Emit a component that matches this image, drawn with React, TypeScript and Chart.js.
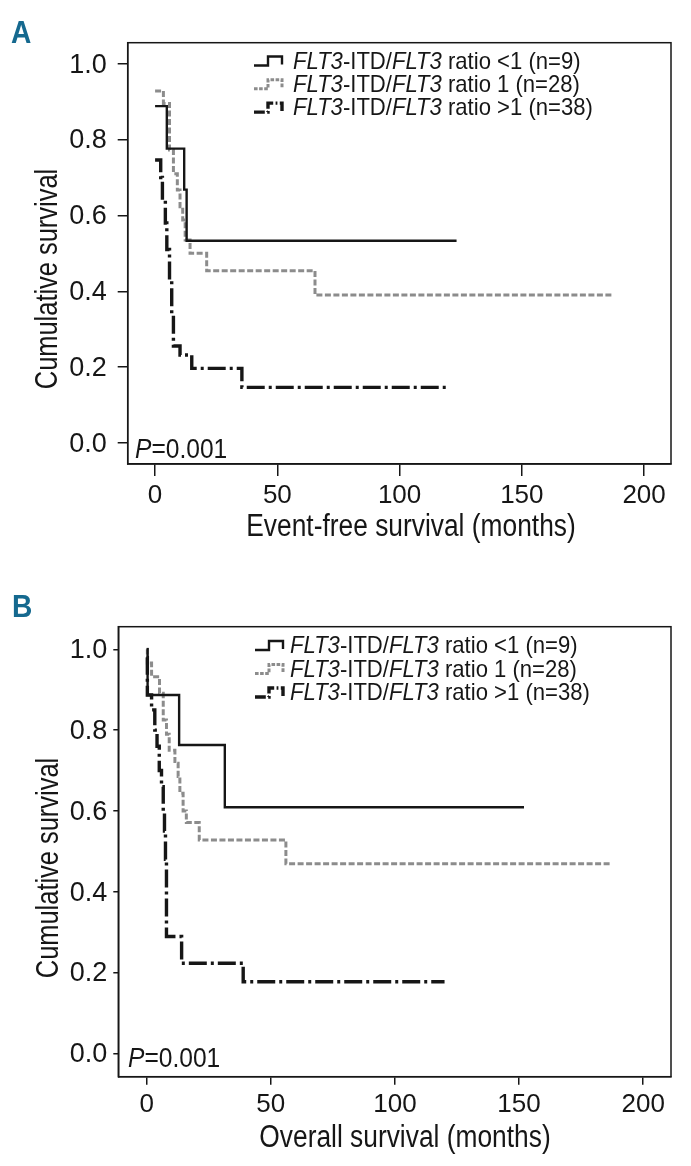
import React, { useEffect, useRef } from "react";
import { Chart, registerables } from "chart.js";

Chart.register(...registerables);

// ---------- data ----------
const xTickValues = [0, 50, 100, 150, 200];
const yTickValues = [0, 0.2, 0.4, 0.6, 0.8, 1.0];

const groupLabels = ["ratio <1 (n=9)", "ratio 1 (n=28)", "ratio >1 (n=38)"];

// Panel A: event-free survival (time in months, cumulative survival)
const efsLt1Time = [0, 4.8, 11.9, 12.9, 123.3];
const efsLt1Surv = [0.888, 0.776, 0.668, 0.533, 0.533];

const efsEq1Time = [0, 3.4, 5.9, 7.5, 9.1, 10.2, 11.3, 12.3, 14.3, 21.1, 65.4, 186.7];
const efsEq1Surv = [0.928, 0.895, 0.772, 0.71, 0.667, 0.623, 0.588, 0.535, 0.5, 0.454, 0.39, 0.39];

const efsGt1Time = [0, 2.3, 3.0, 4.2, 4.8, 5.9, 6.8, 7.5, 10.2, 15.0, 35.5, 119.2];
const efsGt1Surv = [0.746, 0.7, 0.64, 0.58, 0.51, 0.43, 0.34, 0.256, 0.232, 0.197, 0.147, 0.147];

// Panel B: overall survival
const osLt1Time = [0, 0.4, 13.1, 31.5, 152];
const osLt1Surv = [1.0, 0.887, 0.763, 0.609, 0.609];

const osEq1Time = [0, 0.3, 2.0, 5.2, 6.7, 8.0, 9.1, 11.4, 12.7, 13.4, 14.7, 16.0, 21.2, 56.1, 186.5];
const osEq1Surv = [1.0, 0.966, 0.932, 0.891, 0.825, 0.79, 0.75, 0.718, 0.685, 0.644, 0.6, 0.571, 0.528, 0.469, 0.469];

const osGt1Time = [0, 0.3, 2.0, 3.3, 4.2, 5.1, 6.0, 6.7, 7.2, 7.6, 8.0, 14.1, 38.9, 120];
const osGt1Surv = [0.98, 0.887, 0.85, 0.8, 0.76, 0.7, 0.66, 0.6, 0.55, 0.48, 0.289, 0.223, 0.177, 0.177];

const pValueText = "0.001";

// ---------- styles ----------
const FF = '"Liberation Sans", Arial, sans-serif';
const INK = "#161616";
const GRAY = "#8c8c8c";
const LABEL_BLUE = "#15698f";

const seriesStyles = [
  { color: INK, width: 2.4, dash: [] as number[] },
  { color: GRAY, width: 3, dash: [6, 2.5] },
  { color: INK, width: 3.4, dash: [18, 4, 3, 4] },
];

type Panel = {
  letter: string;
  xTitle: string;
  canvasH: number;
  area: { left: number; top: number; right: number; bottom: number };
  xMin: number; xMax: number; yMin: number; yMax: number;
  series: { t: number[]; s: number[] }[];
  xTick: { len: number; pad: number };
  yTick: { len: number; pad: number };
  letterPos: [number, number];
  legend: { symX: number; textX: number; y0: number; dy: number };
  pPos: [number, number];
  xTitlePos: [number, number];
  yTitlePos: [number, number];
};

const panels: Panel[] = [
  {
    letter: "A",
    xTitle: "Event-free survival (months)",
    canvasH: 560,
    area: { left: 127.7, top: 42.7, right: 671, bottom: 464 },
    xMin: -11.2, xMax: 211, yMin: -0.055, yMax: 1.055,
    series: [
      { t: efsLt1Time, s: efsLt1Surv },
      { t: efsEq1Time, s: efsEq1Surv },
      { t: efsGt1Time, s: efsGt1Surv },
    ],
    xTick: { len: 12, pad: 4 },
    yTick: { len: 10, pad: 11 },
    letterPos: [11, 43],
    legend: { symX: 254, textX: 293, y0: 61.5, dy: 23.3 },
    pPos: [135, 458],
    xTitlePos: [411, 536],
    yTitlePos: [57, 279],
  },
  {
    letter: "B",
    xTitle: "Overall survival (months)",
    canvasH: 606,
    area: { left: 118.3, top: 66.7, right: 671, bottom: 516.7 },
    xMin: -11.4, xMax: 211.2, yMin: -0.058, yMax: 1.056,
    series: [
      { t: osLt1Time, s: osLt1Surv },
      { t: osEq1Time, s: osEq1Surv },
      { t: osGt1Time, s: osGt1Surv },
    ],
    xTick: { len: 8, pad: 5 },
    yTick: { len: 5, pad: 6 },
    letterPos: [12, 57],
    legend: { symX: 255, textX: 290, y0: 86, dy: 23.5 },
    pPos: [128, 506.5],
    xTitlePos: [405, 586.5],
    yTitlePos: [58, 308],
  },
];

// draw horizontally condensed text; returns the drawn width
function narrowText(
  ctx: CanvasRenderingContext2D,
  txt: string,
  x: number,
  y: number,
  font: string,
  sx: number,
  align: CanvasTextAlign = "left"
) {
  ctx.save();
  ctx.font = font;
  ctx.textAlign = align;
  ctx.textBaseline = "alphabetic";
  ctx.translate(x, y);
  ctx.scale(sx, 1);
  ctx.fillText(txt, 0, 0);
  const w = ctx.measureText(txt).width * sx;
  ctx.restore();
  return w;
}

function drawLegendSymbol(ctx: CanvasRenderingContext2D, x: number, yc: number, st: typeof seriesStyles[0]) {
  ctx.save();
  ctx.strokeStyle = st.color;
  ctx.lineWidth = st.width;
  ctx.setLineDash(st.dash.length ? st.dash.map((d) => d * 0.6) : []);
  ctx.beginPath();
  ctx.moveTo(x, yc + 4);
  ctx.lineTo(x + 14, yc + 4);
  ctx.lineTo(x + 14, yc - 5);
  ctx.lineTo(x + 28, yc - 5);
  ctx.lineTo(x + 28, yc + 3);
  ctx.stroke();
  ctx.restore();
}

function makeDecorPlugin(p: Panel) {
  return {
    id: "decor" + p.letter,
    afterDraw(chart: any) {
      const ctx: CanvasRenderingContext2D = chart.ctx;
      const a = chart.chartArea;
      ctx.save();
      // frame
      ctx.strokeStyle = INK;
      ctx.lineWidth = 1.5;
      ctx.strokeRect(a.left, a.top, a.right - a.left, a.bottom - a.top);

      // panel letter
      ctx.fillStyle = LABEL_BLUE;
      narrowText(ctx, p.letter, p.letterPos[0], p.letterPos[1], `bold 32px ${FF}`, 0.88);

      // legend
      ctx.fillStyle = INK;
      groupLabels.forEach((lab, i) => {
        const yc = p.legend.y0 + i * p.legend.dy;
        drawLegendSymbol(ctx, p.legend.symX, yc, seriesStyles[i]);
        const parts: [string, boolean][] = [
          ["FLT3", true],
          ["-ITD/", false],
          ["FLT3", true],
          [" " + lab, false],
        ];
        let x = p.legend.textX;
        const base = yc + 7;
        parts.forEach(([txt, it]) => {
          x += narrowText(ctx, txt, x, base, `${it ? "italic " : ""}24px ${FF}`, 0.92);
        });
      });

      // P value
      const pw = narrowText(ctx, "P", p.pPos[0], p.pPos[1], `italic 27px ${FF}`, 0.91);
      narrowText(ctx, "=" + pValueText, p.pPos[0] + pw, p.pPos[1], `27px ${FF}`, 0.91);

      // axis titles
      narrowText(ctx, p.xTitle, p.xTitlePos[0], p.xTitlePos[1], `31px ${FF}`, 0.85, "center");
      ctx.save();
      ctx.translate(p.yTitlePos[0], p.yTitlePos[1]);
      ctx.rotate(-Math.PI / 2);
      narrowText(ctx, "Cumulative survival", 0, 0, `31px ${FF}`, 0.82, "center");
      ctx.restore();

      ctx.restore();
    },
  };
}

function SurvivalPanel({ p }: { p: Panel }) {
  const ref = useRef<HTMLCanvasElement | null>(null);
  useEffect(() => {
    if (!ref.current) return;
    const a = p.area;
    const chart = new Chart(ref.current, {
      type: "line",
      data: {
        datasets: p.series.map((sr, i) => ({
          label: groupLabels[i],
          data: sr.t.map((t, k) => ({ x: t, y: sr.s[k] })),
          stepped: "before" as const,
          borderColor: seriesStyles[i].color,
          borderWidth: seriesStyles[i].width,
          borderDash: seriesStyles[i].dash,
          borderCapStyle: "butt" as const,
          pointRadius: 0,
          fill: false,
          order: i === 0 ? 0 : i === 2 ? 1 : 2,
        })),
      },
      options: {
        animation: false,
        responsive: false,
        devicePixelRatio: 1,
        layout: { padding: { left: 0, top: a.top, right: 691 - a.right, bottom: 0 } },
        plugins: { legend: { display: false }, tooltip: { enabled: false } },
        scales: {
          x: {
            type: "linear",
            min: p.xMin,
            max: p.xMax,
            afterBuildTicks: (s: any) => {
              s.ticks = xTickValues.map((v) => ({ value: v }));
            },
            afterFit: (s: any) => {
              s.height = p.canvasH - a.bottom;
            },
            ticks: {
              autoSkip: false,
              maxRotation: 0,
              padding: p.xTick.pad,
              color: INK,
              font: { family: FF, size: 26 },
              callback: (v: any) => String(v),
            },
            grid: {
              display: true,
              drawOnChartArea: false,
              drawTicks: true,
              tickLength: p.xTick.len,
              color: INK,
              lineWidth: 1.5,
            },
            border: { display: true, color: INK, width: 1.5 },
          },
          y: {
            type: "linear",
            min: p.yMin,
            max: p.yMax,
            afterBuildTicks: (s: any) => {
              s.ticks = yTickValues.map((v) => ({ value: v }));
            },
            afterFit: (s: any) => {
              s.width = a.left;
            },
            ticks: {
              padding: p.yTick.pad,
              labelOffset: 1.5,
              color: INK,
              font: { family: FF, size: 27 },
              callback: (v: any) => Number(v).toFixed(1),
            },
            grid: {
              display: true,
              drawOnChartArea: false,
              drawTicks: true,
              tickLength: p.yTick.len,
              color: INK,
              lineWidth: 1.5,
            },
            border: { display: true, color: INK, width: 1.5 },
          },
        },
      },
      plugins: [makeDecorPlugin(p)],
    } as any);
    return () => chart.destroy();
  }, [p]);
  return (
    <canvas
      ref={ref}
      width={691}
      height={p.canvasH}
      style={{ display: "block", width: 691, height: p.canvasH }}
    />
  );
}

export default function App() {
  return (
    <div style={{ position: "absolute", left: 0, top: 0, width: 691, height: 1166, background: "#fff" }}>
      {panels.map((p) => (
        <SurvivalPanel key={p.letter} p={p} />
      ))}
    </div>
  );
}
